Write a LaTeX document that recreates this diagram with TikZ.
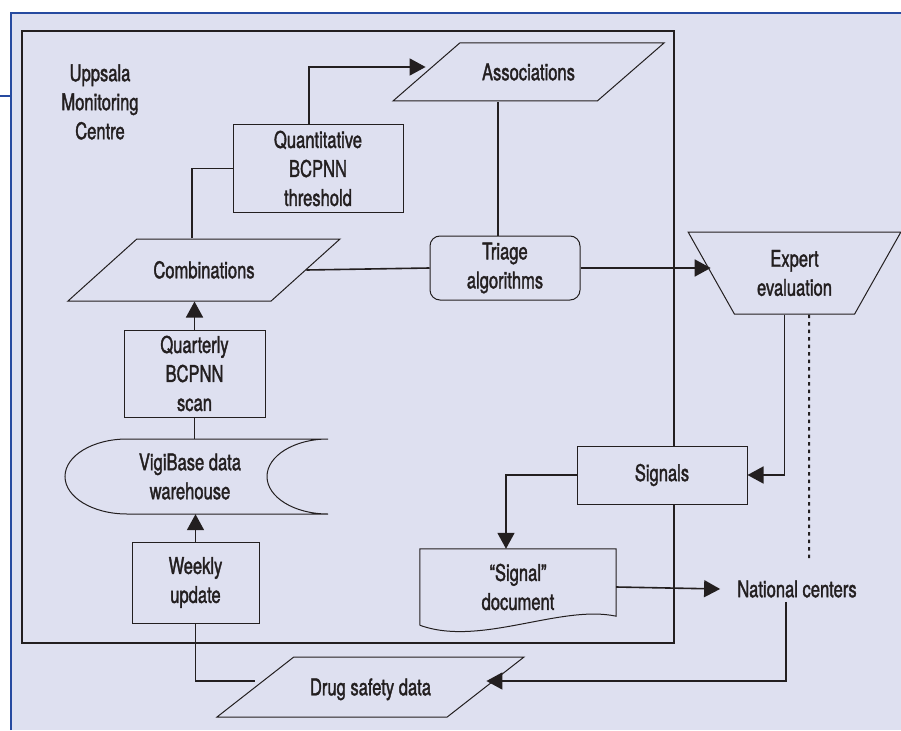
\documentclass[tikz,border=0pt]{standalone}
\usepackage{fontspec}
\setmainfont{TeX Gyre Heros}[FakeStretch=0.72,FakeBold=1.5]
\usetikzlibrary{shapes.geometric,arrows.meta,calc}
\definecolor{panelbg}{RGB}{222,224,240}
\definecolor{panelblue}{RGB}{38,74,160}
\definecolor{inkgray}{RGB}{35,31,32}
\newcommand\chartfont{\fontsize{23}{29}\selectfont}

\begin{document}
\begin{tikzpicture}[x=1pt,y=-1pt,color=inkgray,
    stepbox/.style={draw,line width=1pt,fill=panelbg,inner sep=0pt,
        align=center,font=\chartfont},
    iodata/.style={draw,line width=1pt,fill=panelbg,trapezium,
        trapezium stretches body=true,inner sep=0pt,font=\chartfont},
    plain/.style={inner sep=0pt,align=center,font=\chartfont},
    flow/.style={-{Triangle[length=16pt,width=17pt]},line width=1.6pt},
    link/.style={line width=1.6pt}
]
    \useasboundingbox (0,0) rectangle (901,730);
    \fill[white] (0,0) rectangle (901,730);
    \fill[panelbg] (11,13) rectangle (901,730);
    \draw[panelblue,line width=2.5pt] (0,96) -- (11,96) (11,730) -- (11,13) -- (901,13);
    \draw[line width=2pt] (22,31) rectangle (674,643);

    % data store outline
    \draw[line width=1pt] (127,439) -- (328,439)
        arc[start angle=270,end angle=90,x radius=61,y radius=37.5]
        -- (127,514) arc[start angle=90,end angle=270,x radius=62,y radius=37.5] -- cycle;

    \node[plain] (umc) at (100,102) {Uppsala\\Monitoring\\Centre};
    \node[iodata,trapezium left angle=41,trapezium right angle=139,
        text height=37.25pt,text depth=20.75pt,minimum width=271pt] (assoc) at (528.5,72) {Associations};
    \node[stepbox,minimum width=170pt,minimum height=87pt] (quant) at (318,168.5)
        {Quantitative\\BCPNN\\threshold};
    \node[iodata,trapezium left angle=42,trapezium right angle=138,
        text height=39.25pt,text depth=22.75pt,minimum width=272pt] (comb) at (204,270) {Combinations};
    \node[stepbox,rounded corners=10pt,minimum width=150pt,minimum height=64pt]
        (triage) at (505,268) {Triage\\algorithms};
    \node[iodata,align=center,trapezium stretches body=false,trapezium stretches=true,
        trapezium left angle=122,trapezium right angle=122,
        minimum width=213pt,minimum height=82pt] (expert) at (794.5,273) {Expert\\evaluation};
    \node[stepbox,minimum width=141pt,minimum height=87pt] (quart) at (194.5,373.5)
        {Quarterly\\BCPNN\\scan};
    \node[plain,minimum height=75pt] (vigi) at (190,476.5) {VigiBase data\\warehouse};
    \node[stepbox,minimum width=170pt,minimum height=58pt] (signals) at (662,475) {Signals};
    \node[plain,minimum width=196pt,minimum height=76pt] (doc) at (518,587)
        {``Signal''\\document};
    \draw[line width=1pt] (doc.south west) -- (doc.north west) -- (doc.north east)
        -- ([yshift=9pt]doc.south east) .. controls +(-56,-12) and +(60,22) .. (doc.south west);
    \node[stepbox,minimum width=127pt,minimum height=81pt] (weekly) at (195.5,582.5)
        {Weekly\\update};
    \node[font=\chartfont,inner xsep=17pt,inner ysep=4pt] (natl) at (797,589) {National centers};
    \node[iodata,trapezium left angle=38,trapezium right angle=142,
        text height=38.25pt,text depth=21.75pt,minimum width=307pt] (drug) at (370.5,687) {Drug safety data};
    \coordinate (natlup) at (809,558);

    \draw[flow] ([xshift=-9pt]quant.north) |- ([yshift=5pt]assoc.west);
    \draw[link] ([xshift=-12pt]comb.north) |- (quant.west);
    \draw[flow] (quart.north) -- (quart.north |- comb.south);
    \draw[link] (quart.south) -- (quart.south |- vigi.north);
    \draw[flow] (weekly.north) -- (weekly.north |- vigi.south);
    \draw[link] (weekly.south) |- ([yshift=6pt]drug.west);
    \draw[flow] ([xshift=-11pt]natl.south) |- ([yshift=6pt]drug.east);
    \draw[link] (comb.east) -- (triage.west);
    \draw[link] ([xshift=-7pt]triage.north) -- ([xshift=-7pt]triage.north |- assoc.south);
    \draw[flow] (triage.east) -- (triage.east -| expert.west);
    \draw[flow] ([xshift=-10pt]expert.south) |- (signals.east);
    \draw[flow] (signals.west) -| ([xshift=-12pt]doc.north);
    \draw[flow] (doc.east) -- (natl.west);
    \draw[line width=2pt,dash pattern=on 3.5pt off 4pt] ([xshift=14.5pt]expert.south) -- (natlup);
\end{tikzpicture}
\end{document}
